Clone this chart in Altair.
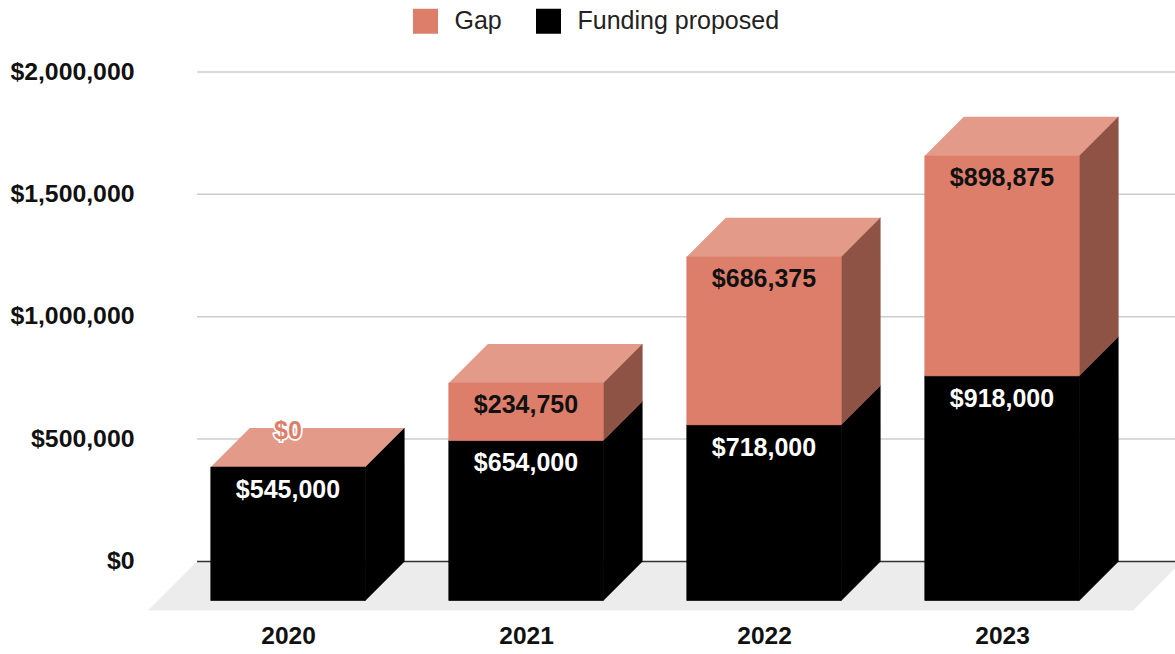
import altair as alt
import pandas as pd

# Chart values
years = [2020, 2021, 2022, 2023]
funding = [545000, 654000, 718000, 918000]
gap = [0, 234750, 686375, 898875]
y_ticks = [0, 500000, 1000000, 1500000, 2000000]

# Colours: front, top and side faces of the extruded columns
GAP_FRONT, GAP_TOP, GAP_SIDE = "#dd7e6b", "#e49a88", "#8f5345"
INK = "#000000"
FLOOR = "#ececec"
GRID = "#cccccc"
FONT = "Liberation Sans"

# Plot frame in pixels
LEFT, TOP, RIGHT, BOTTOM = 148, 72, 1175, 612
WIDTH, HEIGHT = RIGHT - LEFT, BOTTOM - TOP

# Conversion factors between pixels and data units
PX_PER_YEAR = 238
PX_PER_DOLLAR = 489.2 / 2000000
YEAR_ZERO_X = 288
DOLLAR_ZERO_Y = 561.5

DEPTH_X = 39 / PX_PER_YEAR
DEPTH_Y = 39 / PX_PER_DOLLAR
HALF_BAR = 77.2 / PX_PER_YEAR
FLOOR_X = 49 / PX_PER_YEAR
FLOOR_Y = 49 / PX_PER_DOLLAR

x_domain = [
    years[0] - (YEAR_ZERO_X - LEFT) / PX_PER_YEAR,
    years[0] + (RIGHT - YEAR_ZERO_X) / PX_PER_YEAR,
]
y_domain = [-(BOTTOM - DOLLAR_ZERO_Y) / PX_PER_DOLLAR, 2000000]

x_scale = alt.Scale(domain=x_domain, nice=False, zero=False)
y_scale = alt.Scale(domain=y_domain, nice=False, zero=False)

x_axis = alt.Axis(
    values=years, format="d", domain=False, ticks=False, grid=False,
    labelFont=FONT, labelFontSize=24.5, labelFontWeight="bold",
    labelColor="#111111", labelPadding=12,
)
y_axis = alt.Axis(
    values=y_ticks, format="$,.0f", domain=False, ticks=False, grid=False,
    labelFont=FONT, labelFontSize=24.8, labelFontWeight="bold",
    labelColor="#111111", labelPadding=14,
)

# The front faces stand one depth step below the back wall
fronts, sides, tops = [], [], []
for year, f, g in zip(years, funding, gap):
    for name, low, high, side_col, top_col in [
        ("Funding proposed", 0, f, INK, None),
        ("Gap", f, f + g, GAP_SIDE, GAP_TOP),
    ]:
        key = f"{year}-{name}"
        x0, x1 = year - HALF_BAR, year + HALF_BAR
        y0, y1 = low - DEPTH_Y, high - DEPTH_Y
        fronts.append(dict(segment=name, x0=x0, x1=x1, y0=y0, y1=y1))
        if high > low:
            sides.append(dict(key=key, fill=side_col, x=x1, y0=y0, y1=y1))
            sides.append(dict(key=key, fill=side_col, x=x1 + DEPTH_X, y0=y0 + DEPTH_Y, y1=y1 + DEPTH_Y))
        if top_col:
            tops.append(dict(key=key, fill=top_col, y=y1, x0=x0, x1=x1))
            tops.append(dict(key=key, fill=top_col, y=y1 + DEPTH_Y, x0=x0 + DEPTH_X, x1=x1 + DEPTH_X))

fronts = pd.DataFrame(fronts)
sides = pd.DataFrame(sides)
tops = pd.DataFrame(tops)

floor = pd.DataFrame(
    [
        dict(id="floor", y=0, x0=x_domain[0] + FLOOR_X, x1=x_domain[1] + 7 / PX_PER_YEAR),
        dict(id="floor", y=-FLOOR_Y, x0=x_domain[0], x1=x_domain[1] + 7 / PX_PER_YEAR - FLOOR_X),
    ]
)

grid = pd.DataFrame(
    {
        "v": y_ticks,
        "x0": x_domain[0] + FLOOR_X,
        "x1": x_domain[1],
    }
)

labels = pd.DataFrame(
    {
        "year": years,
        "funding": funding,
        "gap": gap,
    }
)
labels["funding_y"] = labels["funding"] - DEPTH_Y
labels["gap_y"] = labels["funding"] + labels["gap"] - DEPTH_Y
labels["funding_text"] = labels["funding"].map("${:,}".format)
labels["gap_text"] = labels["gap"].map("${:,}".format)


def X(field):
    return alt.X(field, type="quantitative", scale=x_scale, axis=x_axis, title=None)


def Y(field):
    return alt.Y(field, type="quantitative", scale=y_scale, axis=y_axis, title=None)


floor_layer = (
    alt.Chart(floor)
    .mark_area(orient="horizontal", color=FLOOR, clip=True)
    .encode(y=Y("y"), x=X("x0"), x2="x1", detail="id:N")
)

grid_layer = (
    alt.Chart(grid)
    .transform_filter("datum.v > 0")
    .mark_rule(color=GRID, strokeWidth=1.5)
    .encode(x=X("x0"), x2="x1", y=Y("v"))
)
base_layer = (
    alt.Chart(grid)
    .transform_filter("datum.v == 0")
    .mark_rule(color="#333333", strokeWidth=1.5)
    .encode(x=X("x0"), x2="x1", y=Y("v"))
)

side_layer = (
    alt.Chart(sides)
    .mark_area(strokeWidth=0.7)
    .encode(
        x=X("x"), y=Y("y1"), y2="y0", detail="key:N",
        color=alt.Color("fill:N", scale=None),
        stroke=alt.Stroke("fill:N", scale=None),
    )
)
top_layer = (
    alt.Chart(tops)
    .mark_area(orient="horizontal")
    .encode(y=Y("y"), x=X("x0"), x2="x1", detail="key:N", color=alt.Color("fill:N", scale=None))
)

segment_scale = alt.Scale(domain=["Gap", "Funding proposed"], range=[GAP_FRONT, INK])
front_layer = (
    alt.Chart(fronts)
    .transform_filter("datum.y1 > datum.y0")
    .mark_rect(strokeWidth=0.7)
    .encode(
        x=X("x0"),
        x2="x1",
        y=Y("y1"),
        y2="y0",
        stroke=alt.Stroke("segment:N", scale=segment_scale, legend=None),
        color=alt.Color(
            "segment:N",
            scale=segment_scale,
            legend=alt.Legend(
                title=None, orient="none", legendX=265, legendY=-63.5, direction="horizontal",
                symbolType="square", symbolSize=625, symbolStrokeWidth=0,
                labelFont=FONT, labelFontSize=25, labelColor="#222222", labelLimit=320,
                labelOffset=16.5, columnPadding=34,
            ),
        ),
    )
)

funding_text = (
    alt.Chart(labels)
    .mark_text(font=FONT, fontSize=25, fontWeight="bold", color="#ffffff", baseline="middle", dy=23)
    .encode(x=X("year"), y=Y("funding_y"), text="funding_text:N")
)
gap_text = (
    alt.Chart(labels)
    .transform_filter("datum.gap > 0")
    .mark_text(font=FONT, fontSize=25, fontWeight="bold", color="#111111", baseline="middle", dy=22.5)
    .encode(x=X("year"), y=Y("gap_y"), text="gap_text:N")
)
# A zero gap has no front face, so its label sits on the top face with a white halo
zero_halo = (
    alt.Chart(labels)
    .transform_filter("datum.gap == 0")
    .mark_text(font=FONT, fontSize=25, fontWeight="bold", stroke="#ffffff", strokeWidth=3.5,
               fill="#ffffff", baseline="middle", dy=-36)
    .encode(x=X("year"), y=Y("gap_y"), text="gap_text:N")
)
zero_text = (
    alt.Chart(labels)
    .transform_filter("datum.gap == 0")
    .mark_text(font=FONT, fontSize=25, fontWeight="bold", color=GAP_FRONT, baseline="middle", dy=-36)
    .encode(x=X("year"), y=Y("gap_y"), text="gap_text:N")
)

chart = (
    alt.layer(
        floor_layer, grid_layer, base_layer, side_layer, top_layer, front_layer,
        funding_text, gap_text, zero_halo, zero_text,
    )
    .properties(
        width=WIDTH,
        height=HEIGHT,
        autosize=alt.AutoSizeParams(type="none"),
        padding={"left": LEFT, "top": TOP, "right": 0, "bottom": 654 - BOTTOM},
        background="#ffffff",
    )
    .configure_view(stroke=None)
)

chart.save("out.html", embed_options={"renderer": "svg", "actions": False})
